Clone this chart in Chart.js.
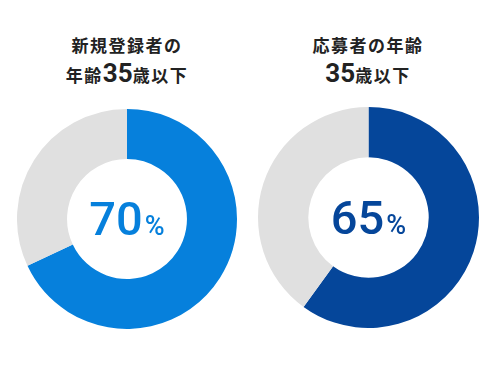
<!DOCTYPE html>
<html>
<head>
<meta charset="utf-8">
<script src="https://cdn.jsdelivr.net/npm/chart.js@4/dist/chart.umd.min.js"></script>
<style>
  html, body { margin: 0; padding: 0; background: #fff; }
  body { width: 504px; height: 370px; position: relative; overflow: hidden; }
  .title {
    position: absolute; width: 252px; text-align: center;
    font-family: "Noto Sans CJK JP", sans-serif; font-weight: 700;
    font-size: 17px; letter-spacing: 1.5px; color: #222; line-height: 28px;
  }
  .title .num { font-family: Roboto, Arial, sans-serif; font-size: 26px; font-weight: 700; letter-spacing: 0; }
  .box { position: absolute; }
</style>
</head>
<body>
<div class="title" id="t0" style="left:1px; top:31px;"></div>
<div class="title" id="t1" style="left:242px; top:31px;"></div>
<div class="box" style="left:17px; top:109px; width:220px; height:220px;"><canvas id="c0"></canvas></div>
<div class="box" style="left:258px; top:107px; width:221px; height:221px;"><canvas id="c1"></canvas></div>
<script>
// data
const segmentLabels = ['35歳以下', 'その他'];
const registeredShare = [68, 32];   // 新規登録者
const applicantShare = [60, 40];    // 応募者
const centerLabels = ['70', '65'];
const titleLines = [
    ['新規登録者の', '年齢35歳以下'],
    ['応募者の年齢', '35歳以下']
];

const colors = [
    ['#0680dc', '#e0e0e0'],
    ['#05469a', '#e0e0e0']
];

titleLines.forEach((lines, i) => {
    document.getElementById('t' + i).innerHTML = lines
        .map(l => l.replace(/(\d+)/g, '<span class="num">$1</span>'))
        .join('<br>');
});

// big percentage in the hole
const centerText = {
    id: 'centerText',
    afterDraw(chart, args, opts) {
        const ctx = chart.ctx;
        const arc = chart.getDatasetMeta(0).data[0];
        const cx = arc.x, cy = arc.y;
        const bigFont = '500 47px Roboto, Arial, sans-serif';
        const smallFont = '500 27px Roboto, Arial, sans-serif';
        ctx.save();
        ctx.fillStyle = opts.color;
        ctx.textBaseline = 'alphabetic';
        ctx.font = bigFont;
        const w1 = ctx.measureText(opts.text).width;
        ctx.font = smallFont;
        const w2 = ctx.measureText('%').width;
        const x0 = cx - (w1 + w2 + 2) / 2;
        ctx.font = bigFont;
        ctx.fillText(opts.text, x0, cy + 16);
        ctx.font = smallFont;
        ctx.fillText('%', x0 + w1 + 2, cy + 16);
        ctx.restore();
    }
};

function makeChart(id, values, idx) {
    return new Chart(document.getElementById(id), {
        type: 'doughnut',
        data: {
            labels: segmentLabels,
            datasets: [{
                data: values,
                backgroundColor: colors[idx],
                borderWidth: 0
            }]
        },
        options: {
            responsive: true,
            maintainAspectRatio: false,
            animation: false,
            cutout: '54.5%',
            plugins: {
                legend: { display: false },
                tooltip: { enabled: false },
                centerText: { text: centerLabels[idx], color: colors[idx][0] }
            }
        },
        plugins: [centerText]
    });
}

makeChart('c0', registeredShare, 0);
makeChart('c1', applicantShare, 1);
</script>
</body>
</html>
